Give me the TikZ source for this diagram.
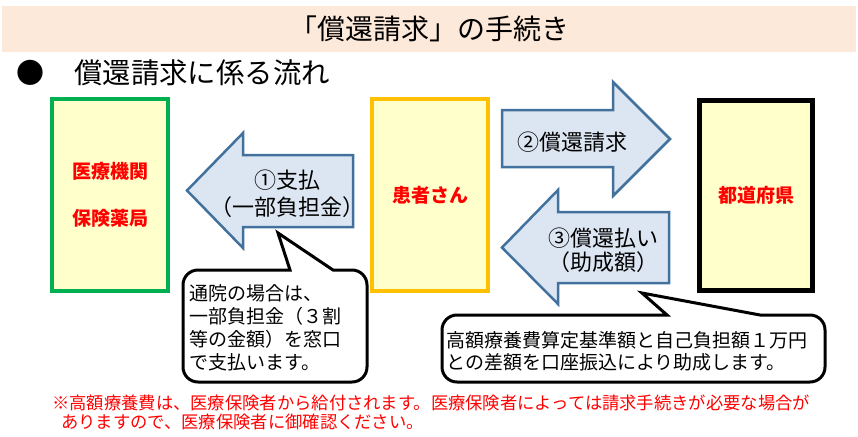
\documentclass[tikz,border=0pt]{standalone}
\usepackage{fontspec}
\setmainfont{Noto Sans CJK JP}
\definecolor{bandfill}{HTML}{FDE9D9}
\definecolor{boxfill}{HTML}{FFFFCC}
\definecolor{boxgreen}{HTML}{00B050}
\definecolor{boxorange}{HTML}{FFC000}
\definecolor{arrowfill}{HTML}{DCE6F2}
\definecolor{arrowline}{HTML}{41719C}
\begin{document}
\begin{tikzpicture}[x=1pt,y=-1pt,
  box/.style={draw, line width=4pt, fill=boxfill, minimum width=116pt, minimum height=192pt, inner sep=0pt, text=red, font=\bfseries\fontsize{19}{47}\selectfont, align=center},
  barrow/.style={draw=arrowline, fill=arrowfill, line width=2.5pt, line join=miter},
  atext/.style={font=\fontsize{22}{27}\selectfont, align=center, inner sep=0pt},
  callout/.style={draw=black, fill=white, line width=3pt},
  ctext/.style={font=\fontsize{19}{23}\selectfont, align=left, anchor=west, inner sep=0pt},
]
\useasboundingbox (0,0) rectangle (858,436);
\fill[bandfill] (2,6) rectangle (856,52);
\node[font=\fontsize{28}{28}\selectfont, inner sep=0pt] (title) at (429,29) {「償還請求」の手続き};
\node[font=\fontsize{28}{28}\selectfont, inner sep=0pt, anchor=west] (bullet) at (16,73) {●};
\node[font=\fontsize{28.4}{28}\selectfont, inner sep=0pt, anchor=west] (heading) at (74,73) {償還請求に係る流れ};

\node[box, draw=boxgreen] (clinic) at (110,195) {医療機関\\保険薬局};
\node[box, draw=boxorange] (patient) at (430,195) {患者さん};
\node[box, draw=black, line width=5pt, minimum width=113pt, minimum height=190pt] (pref) at (756,195.5) {都道府県};

\draw[barrow] (187,190.5) -- (243,133) -- (243,155) -- (353,155) -- (353,227) -- (243,227) -- (243,248) -- cycle;
\node[atext] (pay) at (287,193.5) {①支払\\（一部負担金）};

\draw[barrow] (502,110) -- (613,110) -- (613,82) -- (670,139) -- (613,196) -- (613,167) -- (502,167) -- cycle;
\node[atext] (claim) at (572,142) {②償還請求};

\draw[barrow] (502,247.5) -- (558,190) -- (558,212) -- (669,212) -- (669,283) -- (558,283) -- (558,304) -- cycle;
\node[atext, font=\fontsize{22}{24}\selectfont] (refund) at (603,250) {③償還払い\\（助成額）};

\draw[callout] (183,326) [rounded corners=15pt] -- (183,270) -- (260,270) [sharp corners] -- (290,270) -- (278,233) -- (333,270) -- (345,270) [rounded corners=15pt] -- (367,270) -- (367,382) -- (183,382) -- cycle;
\node[ctext] (note1) at (189,327.5) {通院の場合は、\\一部負担金（３割\\等の金額）を窓口\\で支払います。};

\draw[callout] (442,348) [rounded corners=15pt] -- (442,315) -- (650,315) [sharp corners] -- (667,315) -- (642,293) -- (760,315) -- (775,315) [rounded corners=15pt] -- (825,315) -- (825,382) -- (442,382) -- cycle;
\node[ctext, font=\fontsize{19}{22}\selectfont] (note2) at (446,351) {高額療養費算定基準額と自己負担額１万円\\との差額を口座振込により助成します。};

\node[anchor=west, inner sep=0pt, text=red, align=left, font=\fontsize{17.3}{19}\selectfont] (foot) at (52,412.5) {※高額療養費は、医療保険者から給付されます。医療保険者によっては請求手続きが必要な場合が\\\hspace*{9pt}ありますので、医療保険者に御確認ください。};
\end{tikzpicture}
\end{document}
